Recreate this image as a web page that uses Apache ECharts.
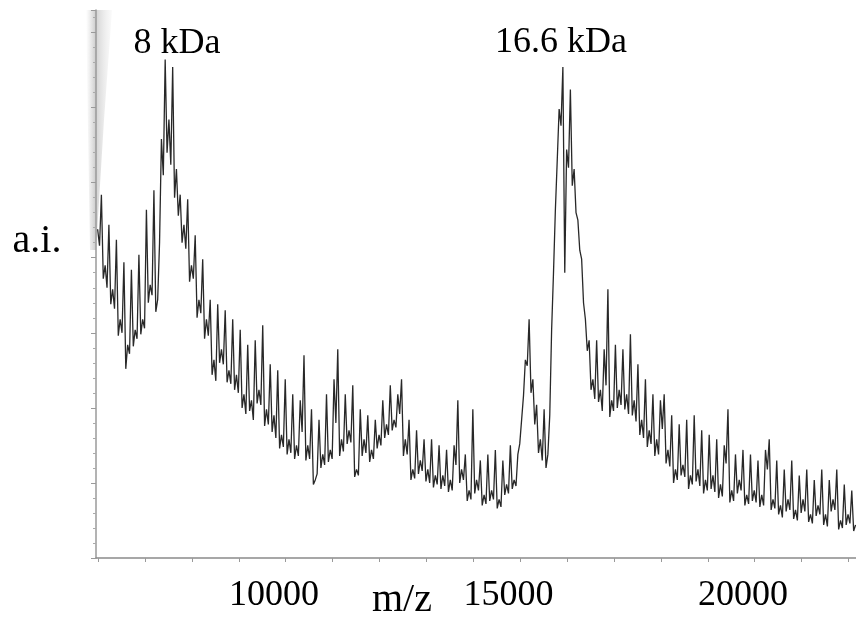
<!DOCTYPE html>
<html>
<head>
<meta charset="utf-8">
<script src="https://cdn.jsdelivr.net/npm/echarts@6/dist/echarts.min.js"></script>
<style>html,body{margin:0;padding:0;background:#fff;}#c{width:856px;height:620px;}</style>
</head>
<body>
<div id="c"></div>
<script>
// m/z sample positions (spikes)
const mz = [
6240,6320,6400,6480,6560,6640,6720,6800,6880,6960,
7040,7120,7200,7280,7360,7440,7520,7600,7680,7760,
7840,7920,8000,8080,8160,8240,8320,8400,8480,8560,
8640,8720,8800,8880,8960,9040,9120,9200,9280,9360,
9440,9520,9600,9680,9760,9840,9920,10000,10080,10160,
10240,10320,10400,10480,10560,10640,10720,10800,10880,10960,
11040,11120,11200,11280,11360,11440,11520,11600,11680,11760,
11840,11920,12000,12080,12160,12240,12320,12400,12480,12560,
12640,12720,12800,12880,12960,13040,13120,13200,13280,13360,
13440,13520,13600,13680,13760,13840,13920,14000,14080,14160,
14240,14320,14400,14480,14560,14640,14720,14800,14880,14960,
15040,15120,15200,15280,15360,15440,15520,15600,15680,15760,
15840,15920,16000,16080,16160,16240,16320,16400,16480,16560,
16640,16720,16800,16880,16960,17040,17120,17200,17280,17360,
17440,17520,17600,17680,17760,17840,17920,18000,18080,18160,
18240,18320,18400,18480,18560,18640,18720,18800,18880,18960,
19040,19120,19200,19280,19360,19440,19520,19600,19680,19760,
19840,19920,20000,20080,20160,20240,20320,20400,20480,20560,
20640,20720,20800,20880,20960,21040,21120,21200,21280,21360,
21440,21520,21600,21680,21760,21840,21920,22000,22080,22160,
22240,22320,22400
];
// relative intensity (a.i.) at mz
const intensity = [
21.9,24.2,19.5,22.2,17.9,21.2,15.9,19.7,14.2,19.2,
15.2,20.2,15.9,23.2,18.2,24.5,17.2,27.9,33.2,29.2,
32.7,25.9,24.2,22.2,23.9,19.5,21.5,17.2,19.9,15.9,
17.2,13.2,16.9,13.9,16.5,12.5,15.9,12.2,15.2,10.9,
14.2,10.5,14.5,11.2,15.5,9.9,12.9,9.5,12.5,8.2,
11.9,7.9,10.9,7.5,10.5,13.5,7.5,9.9,5.2,9.2,
6.9,10.9,7.2,11.9,13.9,7.9,10.9,8.5,11.5,5.9,
9.9,7.9,9.5,7.2,9.2,8.2,10.5,8.9,11.5,9.2,
10.9,11.9,7.9,9.2,5.9,8.5,6.5,7.9,5.9,7.9,
5.5,7.5,5.5,7.2,5.2,7.5,10.5,5.9,6.9,4.5,
9.9,5.2,6.5,4.2,6.9,4.5,7.2,3.9,6.5,4.9,
7.5,5.2,6.9,9.2,13.2,15.9,11.9,10.2,7.9,9.9,
6.9,15.2,23.2,29.9,32.7,27.2,31.2,25.9,22.5,19.9,
15.9,14.5,11.9,14.5,11.2,13.9,17.9,10.5,14.2,11.2,
13.9,10.9,14.9,10.5,12.9,9.2,11.9,8.5,10.9,7.9,
10.5,10.9,7.2,9.5,5.9,8.9,6.2,9.2,5.5,9.5,
5.9,8.5,5.2,8.2,5.5,7.9,4.9,7.5,9.9,4.5,
6.9,5.2,7.2,4.2,6.9,4.5,6.5,4.2,7.2,7.9,
3.9,6.5,3.5,5.9,3.9,6.5,3.2,5.5,3.9,5.9,
2.9,5.2,3.5,5.9,2.9,5.2,3.9,5.9,2.5,4.9,
2.9,4.5,2.2
];
// m/z positions between spikes (troughs)
const mzMid = [
6280,6360,6440,6520,6600,6680,6760,6840,6920,7000,
7080,7160,7240,7320,7400,7480,7560,7640,7720,7800,
7880,7960,8040,8120,8200,8280,8360,8440,8520,8600,
8680,8760,8840,8920,9000,9080,9160,9240,9320,9400,
9480,9560,9640,9720,9800,9880,9960,10040,10120,10200,
10280,10360,10440,10520,10600,10680,10760,10840,10920,11000,
11080,11160,11240,11320,11400,11480,11560,11640,11720,11800,
11880,11960,12040,12120,12200,12280,12360,12440,12520,12600,
12680,12760,12840,12920,13000,13080,13160,13240,13320,13400,
13480,13560,13640,13720,13800,13880,13960,14040,14120,14200,
14280,14360,14440,14520,14600,14680,14760,14840,14920,15000,
15080,15160,15240,15320,15400,15480,15560,15640,15720,15800,
15880,15960,16040,16120,16200,16280,16360,16440,16520,16600,
16680,16760,16840,16920,17000,17080,17160,17240,17320,17400,
17480,17560,17640,17720,17800,17880,17960,18040,18120,18200,
18280,18360,18440,18520,18600,18680,18760,18840,18920,19000,
19080,19160,19240,19320,19400,19480,19560,19640,19720,19800,
19880,19960,20040,20120,20200,20280,20360,20440,20520,20600,
20680,20760,20840,20920,21000,21080,21160,21240,21320,21400,
21480,21560,21640,21720,21800,21880,21960,22040,22120,22200,
22280,22360
];
const intensityMid = [
20.8,18.6,18.0,16.9,16.6,14.8,15.0,12.6,13.6,14.1,
14.6,14.9,15.3,17.0,17.5,16.4,21.0,25.5,27.0,26.2,
24.0,22.8,21.0,20.6,18.4,18.6,16.0,16.3,14.6,14.8,
12.2,11.8,13.0,12.9,11.7,11.6,11.2,11.0,10.0,9.6,
9.8,9.2,10.3,10.2,8.8,8.9,8.4,8.0,7.3,7.4,
6.9,7.0,6.6,6.8,8.4,6.5,6.6,4.9,5.6,6.0,
6.2,6.4,6.6,9.0,6.8,7.1,7.6,7.7,5.4,5.5,
6.8,7.0,6.4,6.6,7.3,7.5,8.0,8.2,8.5,8.7,
9.6,6.8,6.9,5.2,5.3,5.6,5.8,5.1,5.0,4.7,
4.9,4.6,4.8,4.4,4.5,6.2,5.0,5.2,3.8,3.9,
4.3,4.5,3.5,3.6,3.8,3.9,3.3,3.4,4.2,4.3,
4.6,4.8,7.6,10.8,12.8,11.0,8.9,7.0,6.5,6.0,
9.5,19.0,26.5,28.8,19.0,26.0,24.8,23.0,20.5,17.0,
13.8,11.2,10.6,10.4,9.8,11.5,9.4,9.8,10.0,10.2,
9.9,9.6,9.5,9.1,8.2,8.0,7.4,7.6,6.8,6.9,
8.6,6.3,6.1,5.0,5.2,5.5,5.4,4.6,4.9,5.1,
4.8,4.3,4.5,4.6,4.4,4.0,4.1,6.3,3.7,3.8,
4.3,4.5,3.5,3.6,3.8,3.7,3.4,3.5,5.9,3.2,
3.3,2.9,2.7,3.1,3.2,2.6,2.5,3.0,3.1,2.4,
2.3,2.8,2.9,2.2,2.1,3.1,3.2,1.9,2.0,2.2,
2.3,1.8
];
const xLabelValues = [10000, 15000, 20000];
const xTickValues = [6250,7250,8250,9250,10250,11250,12250,13250,14250,15250,16250,17250,18250,19250,20250,21250,22250];
const peakLabels = ['8 kDa', '16.6 kDa'];
const xName = 'm/z';
const yName = 'a.i.';

// merge spikes and troughs in m/z order
const spectrum = [];
for (let i = 0; i < mz.length; i++) {
  spectrum.push([mz[i], intensity[i]]);
  if (i < mzMid.length) spectrum.push([mzMid[i], intensityMid[i]]);
}

const FONT = '"Liberation Serif", "Times New Roman", serif';
const chart = echarts.init(document.getElementById('c'), null, {renderer: 'canvas'});
const option = {
  animation: false,
  backgroundColor: '#fff',
  grid: {left: 96, right: 0, top: 10, bottom: 62, containLabel: false},
  xAxis: {
    type: 'value', min: 6205, max: 22410,
    axisLine: {show: true, lineStyle: {color: '#8a8a8a', width: 1.5}},
    axisTick: {show: true, customValues: xTickValues, length: 4, lineStyle: {color: '#9a9a9a'}},
    axisLabel: {show: true, customValues: xLabelValues, margin: 20, fontFamily: FONT, fontSize: 36, color: '#000',
      formatter: v => String(v)},
    splitLine: {show: false}
  },
  yAxis: {
    type: 'value', min: 0, max: 36.5, interval: 5,
    axisLine: {show: true, lineStyle: {color: '#9a9a9a', width: 1.5}},
    axisTick: {show: true, length: 5, lineStyle: {color: '#9a9a9a'}},
    minorTick: {show: true, splitNumber: 5, length: 3, lineStyle: {color: '#aaaaaa'}},
    axisLabel: {show: false},
    splitLine: {show: false},
    minorSplitLine: {show: false}
  },
  series: [{
    type: 'line',
    data: spectrum,
    showSymbol: false,
    symbol: 'none',
    lineStyle: {color: '#111111', width: 1.3, opacity: 0.9},
    z: 3
  }],
  graphic: [
    {type: 'polygon', z: 0, silent: true,
      shape: {points: [[86, 10], [112, 10], [104, 120], [96, 250], [90, 250]]},
      style: {fill: new echarts.graphic.LinearGradient(0, 0, 1, 0, [
        {offset: 0, color: 'rgba(190,190,190,0.0)'},
        {offset: 0.35, color: 'rgba(170,170,170,0.55)'},
        {offset: 1, color: 'rgba(230,230,230,0.2)'}])}},
    {type: 'text', z: 10, position: [177, 44],
      style: {text: peakLabels[0], fontFamily: FONT, fontSize: 36, fill: '#000', textAlign: 'center', textVerticalAlign: 'middle'}},
    {type: 'text', z: 10, position: [561, 43],
      style: {text: peakLabels[1], fontFamily: FONT, fontSize: 36, fill: '#000', textAlign: 'center', textVerticalAlign: 'middle'}},
    {type: 'text', z: 10, position: [402, 600],
      style: {text: xName, fontFamily: FONT, fontSize: 40, fill: '#000', textAlign: 'center', textVerticalAlign: 'middle'}},
    {type: 'text', z: 10, position: [37, 241],
      style: {text: yName, fontFamily: FONT, fontSize: 40, fill: '#000', textAlign: 'center', textVerticalAlign: 'middle'}}
  ]
};
chart.setOption(option);
</script>
</body>
</html>
